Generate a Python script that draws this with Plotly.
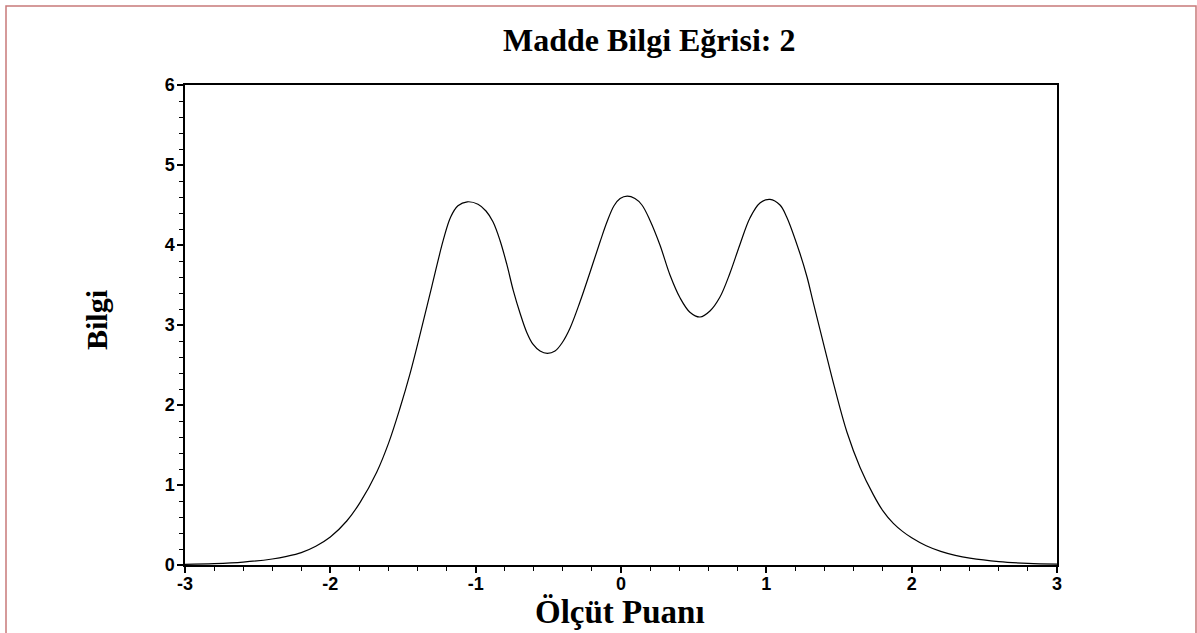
import plotly.graph_objects as go

# Curve points
theta = [-3.0, -2.8, -2.6, -2.4, -2.3, -2.2, -2.1, -2.0, -1.887, -1.796, -1.681, -1.598, -1.521,
         -1.452, -1.383, -1.302, -1.223, -1.172, -1.122, -1.058, -0.984, -0.929, -0.881,
         -0.833, -0.786, -0.741, -0.695, -0.649, -0.606, -0.557, -0.507, -0.454, -0.406,
         -0.351, -0.282, -0.213, -0.144, -0.096, -0.048, -0.006, 0.043, 0.096, 0.144,
         0.199, 0.268, 0.337, 0.406, 0.474, 0.544, 0.612, 0.681, 0.750, 0.819, 0.888,
         0.956, 1.025, 1.094, 1.140, 1.232, 1.280, 1.323, 1.404, 1.468, 1.555, 1.645, 1.736,
         1.801, 1.874, 1.937, 2.0, 2.1, 2.2, 2.3, 2.4, 2.6, 2.8, 3.0]
info = [0.008, 0.017, 0.036, 0.075, 0.108, 0.155, 0.235, 0.35, 0.55, 0.78, 1.16, 1.53, 1.96,
        2.39, 2.88, 3.48, 4.06, 4.35, 4.49, 4.54, 4.51, 4.425, 4.29,
        4.06, 3.76, 3.43, 3.15, 2.91, 2.76, 2.675, 2.646, 2.675, 2.775,
        2.96, 3.29, 3.66, 4.04, 4.29, 4.49, 4.58, 4.61, 4.58, 4.50,
        4.31, 4.00, 3.625, 3.34, 3.16, 3.10, 3.175, 3.35, 3.65, 4.01, 4.34,
        4.525, 4.57, 4.50, 4.35, 3.89, 3.60, 3.28, 2.69, 2.23, 1.66, 1.22, 0.88,
        0.68, 0.52, 0.42, 0.34, 0.24, 0.17, 0.12, 0.085, 0.042, 0.02, 0.01]

x_ticks = [-3, -2, -1, 0, 1, 2, 3]
y_ticks = [0, 1, 2, 3, 4, 5, 6]

title_text = "Madde Bilgi Eğrisi: 2"
x_title = "Ölçüt Puanı"
y_title = "Bilgi"

fig = go.Figure()
fig.add_trace(go.Scatter(x=theta, y=info, mode="lines",
                         line=dict(color="black", width=1.2, shape="spline", smoothing=1.0),
                         hoverinfo="skip", showlegend=False))

W, H = 1197, 633
L, T = 185, 85
pw, ph = 872, 480
R, B = W - L - pw, H - T - ph


def px(wx):
    return (wx - L) / pw


def py(wy):
    return (H - B - wy) / ph


tickfont = dict(family="Liberation Sans, Arial", size=18, color="black", weight="bold")
serif = "Liberation Serif, Times New Roman, serif"

fig.update_layout(
    width=W, height=H,
    margin=dict(l=L, r=R, t=T, b=B),
    paper_bgcolor="white", plot_bgcolor="white",
    xaxis=dict(range=[-3, 3], tickvals=x_ticks, ticktext=[str(v) for v in x_ticks],
               showgrid=False, zeroline=False, showline=True, linecolor="black", linewidth=1.5,
               mirror=True, ticks="outside", ticklen=6, tickwidth=1.5, tickcolor="black",
               tickfont=tickfont, ticklabelstandoff=-4,
               minor=dict(dtick=0.2, ticks="outside", ticklen=4, tickwidth=1, tickcolor="black")),
    yaxis=dict(range=[0, 6], tickvals=y_ticks, ticktext=[str(v) for v in y_ticks],
               showgrid=False, zeroline=False, showline=True, linecolor="black", linewidth=1.5,
               mirror=True, ticks="outside", ticklen=6, tickwidth=1.5, tickcolor="black",
               tickfont=tickfont, ticklabelstandoff=-1,
               minor=dict(dtick=0.2, ticks="outside", ticklen=4, tickwidth=1, tickcolor="black")),
    annotations=[
        dict(text="<b>" + title_text + "</b>", x=px(648.7), y=py(40), xref="paper", yref="paper",
             xanchor="center", yanchor="middle", showarrow=False,
             font=dict(family=serif, size=32, color="black")),
        dict(text="<b>" + x_title + "</b>", x=px(620), y=py(612), xref="paper", yref="paper",
             xanchor="center", yanchor="middle", showarrow=False,
             font=dict(family=serif, size=33, color="black")),
        dict(text="<b>" + y_title + "</b>", x=px(96), y=py(320), xref="paper", yref="paper",
             xanchor="center", yanchor="middle", showarrow=False, textangle=-90,
             font=dict(family=serif, size=30, color="black")),
    ],
)

# Outer border of the figure
fig.add_shape(type="rect", xref="paper", yref="paper",
              x0=px(6), x1=px(1196), y0=py(650), y1=py(6),
              line=dict(color="#c87a7a", width=1.5), fillcolor="rgba(0,0,0,0)", layer="below")

fig.write_html("out.html", config={"displayModeBar": False},
               post_script="document.body.style.margin='0px';")
